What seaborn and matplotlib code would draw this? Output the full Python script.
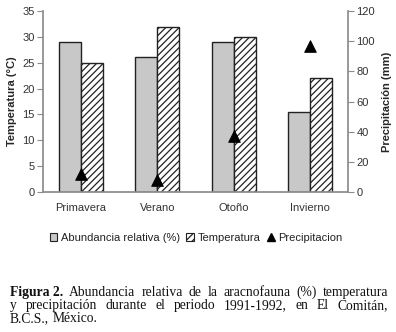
import matplotlib
matplotlib.use("Agg")
import pandas as pd
import seaborn as sns
import matplotlib.pyplot as plt
from matplotlib.patches import Patch
from matplotlib.lines import Line2D

sns.set_theme(style="white")
plt.rcParams["font.family"] = ["Liberation Sans", "DejaVu Sans"]
plt.rcParams["hatch.color"] = "#555555"
plt.rcParams["hatch.linewidth"] = 0.9

seasons = ["Primavera", "Verano", "Otoño", "Invierno"]
abundancia = [29, 26.2, 29, 15.5]
temperatura = [25, 32, 30, 22]
precipitacion = [12, 8, 37, 97]

df = pd.DataFrame({
    "season": seasons * 2,
    "value": abundancia + temperatura,
    "serie": ["Abundancia relativa (%)"] * 4 + ["Temperatura"] * 4,
})
df_p = pd.DataFrame({"season": seasons, "precip": precipitacion})

axis_gray = "#8c8c8c"
fig = plt.figure(figsize=(3.96, 3.32), dpi=100)
ax = fig.add_axes([43 / 396, 140 / 332, 305 / 396, 181 / 332])

sns.barplot(data=df, x="season", y="value", hue="serie", ax=ax,
            palette=["#c8c8c8", "white"], width=0.58, gap=0,
            edgecolor="#222222", linewidth=1.0, legend=False)
for bar in ax.containers[1]:
    bar.set_hatch("/////")

ax.set_ylim(0, 35)
ax.set_yticks(range(0, 36, 5))
ax.set_xlim(-0.5, 3.5)
ax.set_xlabel("")
ax.set_ylabel("Temperatura (°C)", fontsize=8, fontweight="bold", labelpad=4)

ax2 = ax.twinx()
sns.scatterplot(data=df_p, x="season", y="precip", ax=ax2, marker="^",
                color="black", s=70, edgecolor="black", zorder=5, legend=False)
ax2.set_ylim(0, 120)
ax2.set_yticks(range(0, 121, 20))
ax2.set_ylabel("Precipitación (mm)", fontsize=8, fontweight="bold", labelpad=5)
ax2.set_xlim(-0.5, 3.5)

for a in (ax, ax2):
    for s in a.spines.values():
        s.set_visible(False)
    a.tick_params(axis="y", labelsize=8, labelcolor="#333333", color=axis_gray,
                  length=4, width=0.8, direction="out", left=(a is ax), right=(a is ax2), pad=2)
ax.spines["left"].set_visible(True)
ax.spines["left"].set_color(axis_gray)
ax.spines["bottom"].set_visible(True)
ax.spines["bottom"].set_color(axis_gray)
ax2.spines["right"].set_visible(True)
ax2.spines["right"].set_color(axis_gray)

ax.tick_params(axis="x", labelsize=8, labelcolor="#333333", length=0, pad=8)
ax.set_xticks([0.5, 1.5, 2.5], minor=True)
ax.tick_params(axis="x", which="minor", length=4, color=axis_gray, width=0.8, direction="out")

handles = [
    Patch(facecolor="#c8c8c8", edgecolor="#222222", linewidth=0.8),
    Patch(facecolor="white", edgecolor="#222222", hatch="/////", linewidth=0.8),
    Line2D([], [], marker="^", color="black", linestyle="", markersize=6),
]
fig.legend(handles, ["Abundancia relativa (%)", "Temperatura", "Precipitacion"],
           loc="center", bbox_to_anchor=(196 / 396, 1 - 238 / 332), ncol=3,
           frameon=False, fontsize=8, handlelength=0.7, handleheight=0.7,
           handletextpad=0.3, columnspacing=0.6, labelcolor="#222222")

# caption, justified like the printed figure
serif = ["Liberation Serif", "DejaVu Serif"]
cap_size = 9.8
lines = [
    [("Figura 2.", True), ("Abundancia", False), ("relativa", False), ("de", False),
     ("la", False), ("aracnofauna", False), ("(%)", False), ("temperatura", False)],
    [("y", False), ("precipitación", False), ("durante", False), ("el", False), ("periodo", False),
     ("1991-1992,", False), ("en", False), ("El", False), ("Comitán,", False)],
    [("B.C.S.,", False), ("México.", False)],
]
baselines = [296, 309, 322]
x0, x1 = 10, 388
fig.canvas.draw()
renderer = fig.canvas.get_renderer()


def width_of(word, bold):
    t = fig.text(0, 0, word, family=serif, fontsize=cap_size,
                 fontweight="bold" if bold else "normal")
    w = t.get_window_extent(renderer).width
    t.remove()
    return w


space = width_of("a b", False) - width_of("ab", False)
for i, (words, yb) in enumerate(zip(lines, baselines)):
    widths = [width_of(w, b) for w, b in words]
    if i < len(lines) - 1:
        gap = (x1 - x0 - sum(widths)) / (len(words) - 1)
    else:
        gap = space
    x = x0
    for (w, b), wd in zip(words, widths):
        fig.text(x / 396, 1 - yb / 332, w, family=serif, fontsize=cap_size,
                 fontweight="bold" if b else "normal", color="#111111",
                 va="baseline", ha="left")
        x += wd + gap

fig.savefig("out.png", dpi=100)
